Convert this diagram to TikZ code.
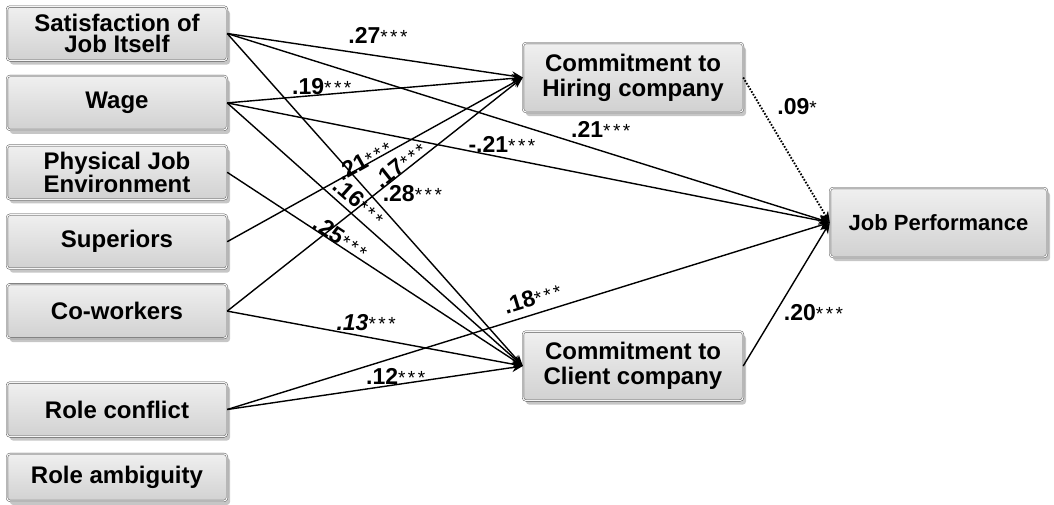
\documentclass[tikz,border=0pt]{standalone}
\usepackage{fontspec}
\setmainfont{Liberation Sans}
\usetikzlibrary{arrows.meta,positioning,shadows}
\newcommand{\coef}[2]{#1{\mdseries\fontsize{19}{19}\selectfont#2}}
\newcommand{\sss}{*\kern2.5pt*\kern2.5pt*}

\begin{document}
\begin{tikzpicture}[
node distance=15pt,
var/.style={draw=gray!55!black,double=gray!8,double distance=1.2pt,rounded corners=3pt,
  top color=gray!12,bottom color=gray!36,middle color=gray!24,
  drop shadow={shadow xshift=3pt,shadow yshift=-4pt,opacity=0.45},
  align=center,minimum width=220pt,minimum height=54pt,inner sep=1pt,
  font=\fontsize{24}{21}\selectfont\bfseries},
big/.style={var,minimum height=69pt,font=\fontsize{24}{25}\selectfont\bfseries},
arr/.style={-{Stealth[length=11pt,width=9pt]},line width=1.4pt},
dots/.style={dash pattern=on 1.6pt off 1.6pt,line width=1.9pt},
cf/.style={font=\fontsize{23}{23}\selectfont\bfseries,inner sep=1pt}]
\useasboundingbox (0,0) rectangle (1054pt,-504pt);
% left column
\node[var] (sat) at (117pt,-33.5pt) {Satisfaction of\\Job Itself};
\node[var,below=of sat] (wage) {Wage};
\node[var,below=of wage] (phys) {Physical Job\\Environment};
\node[var,below=of phys] (sup) {Superiors};
\node[var,below=of sup] (cow) {Co-workers};
\node[var,below=44pt of cow] (rcon) {Role conflict};
\node[var,below=17pt of rcon,minimum height=47pt] (ramb) {Role ambiguity};
% mediators and outcome
\node[big] (hire) at (633pt,-77.5pt) {Commitment to\\Hiring company};
\node[big] (client) at (633pt,-366pt) {Commitment to\\Client company};
\node[big,minimum width=217pt,font=\fontsize{22}{22}\selectfont\bfseries] (perf) at (938.5pt,-222.5pt) {Job Performance};
% paths
\draw[arr] (sat.east) -- node[cf,pos=0.51,above=11pt]{\coef{.27}{\sss}} (hire.west);
\draw[arr] (sat.east) -- node[cf,pos=0.62,above=11pt]{\coef{.21}{\sss}} (perf.west);
\draw[arr] (sat.east) -- node[cf,pos=0.48,right=12pt]{\coef{.28}{\sss}} (client.west);
\draw[arr] (wage.east) -- node[cf,pos=0.32,above=-2pt]{\coef{.19}{\sss}} (hire.west);
\draw[arr] (wage.east) -- node[cf,pos=0.456,above=3pt]{\coef{-.21}{\sss}} (perf.west);
\draw[arr] (wage.east) -- node[cf,pos=0.415,sloped,above=4pt]{\coef{.16}{\sss}} (client.west);
\draw[arr] (phys.east) -- node[cf,pos=0.37,sloped,above=-2pt]{\coef{.25}{\sss}} (client.west);
\draw[arr] (sup.east) -- node[cf,pos=0.47,sloped,above=-5pt]{\coef{.21}{\sss}} (hire.west);
\draw[arr] (cow.east) -- node[cf,pos=0.6,sloped,above=-2pt]{\coef{.17}{\sss}} (hire.west);
\draw[arr] (cow.east) -- node[cf,pos=0.47,above=4pt]{\coef{\textit{.13}}{\sss}} (client.west);
\draw[arr] (rcon.east) -- node[cf,pos=0.57,above=-1pt]{\coef{.12}{\sss}} (client.west);
\draw[arr] (rcon.east) -- node[cf,pos=0.514,sloped,above=6pt]{\coef{.18}{\sss}} (perf.west);
\draw[arr,dots] (hire.east) -- node[cf,pos=0.2,right=15pt]{\coef{.09}{*}} (perf.west);
\draw[arr] (client.east) -- node[cf,pos=0.37,right=7pt]{\coef{.20}{\sss}} (perf.west);
\end{tikzpicture}
\end{document}
